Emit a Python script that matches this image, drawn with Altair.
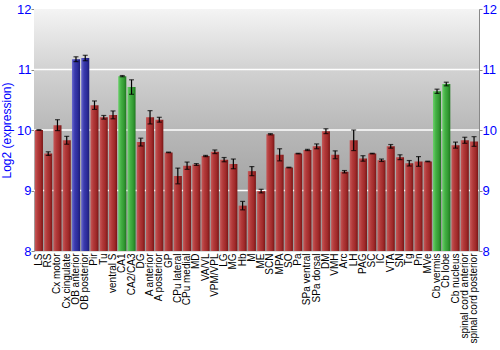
import altair as alt
import pandas as pd

regions = ["LS", "RS", "Cx motor", "Cx cingulate", "OB anterior", "OB posterior", "Pir", "Tu",
           "ventral S", "CA1", "CA2/CA3", "DG", "A anterior", "A posterior", "GP", "CPu lateral",
           "CPu medial", "MD", "VA/VL", "VPM/VPL", "LG", "MG", "Hb", "M", "ME", "SCN", "MPA", "SO",
           "Pa", "SPa ventral", "SPa dorsal", "DM", "VMH", "Arc", "LH", "PAG", "SC", "IC", "VTA",
           "SN", "Tg", "Pn", "MVe", "Cb vermis", "Cb lobe", "Cb nucleus", "spinal cord anterior",
           "spinal cord posterior"]
values = [10.00, 9.61, 10.08, 9.83, 11.17, 11.19, 10.41, 10.21,
          10.25, 10.89, 10.71, 9.80, 10.21, 10.17, 9.63, 9.24,
          9.41, 9.43, 9.57, 9.64, 9.51, 9.44, 8.75, 9.32, 8.99, 9.93, 9.59, 9.38,
          9.61, 9.67, 9.73, 9.98, 9.59, 9.31, 9.83, 9.53, 9.61, 9.50, 9.73,
          9.55, 9.45, 9.48, 9.48, 10.64, 10.76, 9.75, 9.83,
          9.81]
errors = [0.005, 0.03, 0.09, 0.065, 0.04, 0.045, 0.07, 0.03,
          0.065, 0.01, 0.12, 0.065, 0.11, 0.04, 0.005, 0.13,
          0.06, 0.015, 0.01, 0.03, 0.035, 0.08, 0.07, 0.075, 0.03, 0.01, 0.10, 0.005,
          0.005, 0.01, 0.04, 0.04, 0.065, 0.02, 0.17, 0.045, 0.005, 0.02, 0.03,
          0.04, 0.045, 0.08, 0.005, 0.035, 0.03, 0.05, 0.05,
          0.08]
groups = ["red"] * 4 + ["blue"] * 2 + ["red"] * 3 + ["green"] * 2 + ["red"] * 32 + ["green"] * 2 + ["red"] * 3
y_ticks = [8, 9, 10, 11, 12]
grid_lines = [9, 10, 11]
y_min, y_max = 8, 12

df = pd.DataFrame({"region": regions, "value": values, "err": errors, "group": groups})
df["lo"] = df["value"] - df["err"]
df["hi"] = df["value"] + df["err"]

FONT = "Liberation Sans"
AXIS_BLUE = "#0000ff"

x_enc = alt.X("region:N", sort=regions,
              scale=alt.Scale(paddingInner=0.13, paddingOuter=0.1),
              axis=alt.Axis(title=None, labelAngle=-90, labelFontSize=10, labelColor="black",
                            labelFont=FONT, ticks=False, domain=False, labelPadding=2,
                            labelOverlap=False, labelBound=False))
y_scale = alt.Scale(domain=[y_min, y_max], nice=False, zero=False)
left_axis = alt.Axis(title="Log2 (expression)", values=y_ticks, titleColor=AXIS_BLUE,
                     titleFont=FONT, titleFontSize=12, titleFontWeight="normal",
                     labelColor=AXIS_BLUE, labelFont=FONT, labelFontSize=13,
                     grid=False, tickColor="#888", domainColor="#888",
                     titlePadding=3, labelPadding=0, tickSize=3)

# background gradient and grid lines
bg_grad = alt.Gradient(gradient="linear", x1=0, x2=0, y1=0, y2=1,
                       stops=[alt.GradientStop(color="#f4f4f4", offset=0),
                              alt.GradientStop(color="#d2d2d2", offset=0.25),
                              alt.GradientStop(color="#b8b8b8", offset=0.5),
                              alt.GradientStop(color="#a4a4a4", offset=0.75),
                              alt.GradientStop(color="#9a9a9a", offset=1)])
bg = alt.Chart(pd.DataFrame({"top": [y_max], "bottom": [y_min]})).mark_rect(color=bg_grad).encode(
    x=alt.value(0), x2=alt.value("width"),
    y=alt.Y("top:Q", scale=y_scale, axis=left_axis),
    y2="bottom:Q",
)
grid = alt.Chart(pd.DataFrame({"g": grid_lines})).mark_rule(color="white", strokeWidth=1.5).encode(
    y=alt.Y("g:Q", scale=y_scale, axis=left_axis),
)

gradients = {
    "red": ["#c65858", "#b23a3a", "#a02a2a", "#7a1616"],
    "blue": ["#6a6ad0", "#3a3aac", "#2c2c9a", "#1c1c78"],
    "green": ["#6ad06a", "#44b044", "#339a33", "#1e781e"],
}

bar_layers = []
for g, cols in gradients.items():
    grad = alt.Gradient(gradient="linear", x1=0, x2=1, y1=0, y2=0,
                        stops=[alt.GradientStop(color=cols[0], offset=0),
                               alt.GradientStop(color=cols[1], offset=0.35),
                               alt.GradientStop(color=cols[2], offset=0.7),
                               alt.GradientStop(color=cols[3], offset=1)])
    layer = alt.Chart(df).transform_filter(alt.datum.group == g).mark_bar(color=grad).encode(
        x=x_enc,
        y=alt.Y("value:Q", scale=y_scale, axis=left_axis),
        y2=alt.datum(y_min),
    )
    bar_layers.append(layer)

left = alt.layer(bg, grid, *bar_layers)

err = alt.Chart(df).mark_errorbar(ticks=alt.TickConfig(size=5, thickness=1.2, color="black"),
                                  color="black", thickness=1.2).encode(
    x=x_enc,
    y=alt.Y("lo:Q", scale=y_scale,
            axis=alt.Axis(orient="right", title=None, values=y_ticks, grid=False,
                          labelColor=AXIS_BLUE, labelFont=FONT, labelFontSize=13,
                          tickColor="#888", domainColor="#888", labelPadding=0, tickSize=3)),
    y2="hi:Q",
)

chart = alt.layer(left, err).resolve_scale(y="independent").properties(
    width=445, height=242,
    autosize=alt.AutoSizeParams(type="none"),
    padding={"left": 34, "top": 9, "right": 21, "bottom": 99},
).configure_view(stroke="#888", strokeWidth=1).configure(background="white")

chart.save("out.html", embed_options={"renderer": "svg", "actions": False})
